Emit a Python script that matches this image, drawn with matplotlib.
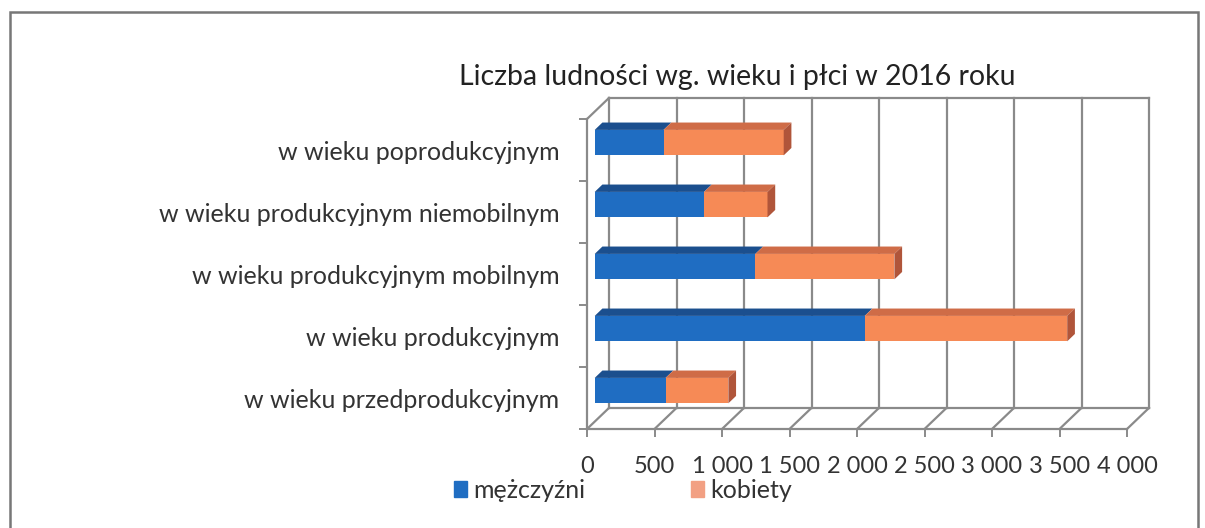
import matplotlib.pyplot as plt
from matplotlib.patches import Polygon, Rectangle, Patch

plt.rcParams['font.family'] = ['Lato', 'DejaVu Sans']

# dane (od dołu wykresu do góry)
kategorie = ["w wieku przedprodukcyjnym", "w wieku produkcyjnym",
             "w wieku produkcyjnym mobilnym", "w wieku produkcyjnym niemobilnym",
             "w wieku poprodukcyjnym"]
mezczyzni = [525, 2000, 1190, 810, 510]
kobiety = [465, 1500, 1030, 470, 890]
x_ticks = [0, 500, 1000, 1500, 2000, 2500, 3000, 3500, 4000]
x_labels = ["0", "500", "1 000", "1 500", "2 000", "2 500", "3 000", "3 500", "4 000"]

# pseudo 3D
DX = 163      # przesunięcie głębokości w jednostkach osi x
DY = 0.34     # przesunięcie głębokości w jednostkach kategorii
D0, D1 = 0.35, 0.70
H = 0.41
GRID = "#8a8a8a"
niebieski, niebieski_gora = "#1f6dc2", "#1b4f8e"
pomarancz, pomarancz_gora, pomarancz_bok = "#f68a56", "#cf6c47", "#b0553a"


def P(x, y, d):
    return (x + d * DX, y + d * DY)


fig = plt.figure(figsize=(12.05, 5.28), dpi=100)
ax = fig.add_axes([587 / 1205, 99 / 528, 540 / 1205, 310 / 528])
ax.set_xlim(0, 4000)
ax.set_ylim(-0.5, len(kategorie) - 0.5)
for s in ax.spines.values():
    s.set_visible(False)

y0, y1 = -0.5, len(kategorie) - 0.5
xmax = x_ticks[-1]

# tylna ściana
for xt in x_ticks:
    ax.plot(*zip(P(xt, y0, 1), P(xt, y1, 1)), color=GRID, lw=1.6, clip_on=False, zorder=1)
ax.plot(*zip(P(0, y1, 1), P(xmax, y1, 1)), color=GRID, lw=1.6, clip_on=False, zorder=1)
ax.plot(*zip(P(0, y0, 1), P(xmax, y0, 1)), color=GRID, lw=1.6, clip_on=False, zorder=1)
# podłoga
for xt in x_ticks:
    ax.plot(*zip(P(xt, y0, 0), P(xt, y0, 1)), color=GRID, lw=1.6, clip_on=False, zorder=1)
ax.plot([0, xmax], [y0, y0], color=GRID, lw=1.6, clip_on=False, zorder=1)
# lewa ściana
ax.plot([0, 0], [y0, y1], color=GRID, lw=1.6, clip_on=False, zorder=1)
ax.plot(*zip(P(0, y1, 0), P(0, y1, 1)), color=GRID, lw=1.6, clip_on=False, zorder=1)

# słupki
ys = list(range(len(kategorie)))
ox, oy = P(0, 0, D0)
b1 = ax.barh([y + oy for y in ys], mezczyzni, height=H, left=ox,
             color=niebieski, zorder=3, label="mężczyźni")
b2 = ax.barh([y + oy for y in ys], kobiety, height=H,
             left=[m + ox for m in mezczyzni], color=pomarancz, zorder=3, label="kobiety")
for y, m, k in zip(ys, mezczyzni, kobiety):
    top, bot = y + H / 2, y - H / 2
    ax.add_patch(Polygon([P(0, top, D0), P(m, top, D0), P(m, top, D1), P(0, top, D1)],
                         closed=True, fc=niebieski_gora, ec="none", zorder=3, clip_on=False))
    ax.add_patch(Polygon([P(m, top, D0), P(m + k, top, D0), P(m + k, top, D1), P(m, top, D1)],
                         closed=True, fc=pomarancz_gora, ec="none", zorder=3, clip_on=False))
    ax.add_patch(Polygon([P(m + k, bot, D0), P(m + k, top, D0), P(m + k, top, D1), P(m + k, bot, D1)],
                         closed=True, fc=pomarancz_bok, ec="none", zorder=3, clip_on=False))

# osie
ax.set_yticks(ys)
ax.set_yticklabels(kategorie, fontsize=18, color="#333333")
ax.set_yticks([y - 0.5 for y in ys] + [y1], minor=True)
ax.tick_params(axis="y", which="major", length=0, pad=20)
ax.tick_params(axis="y", which="minor", length=5.5, width=1.4, color=GRID)
ax.set_xticks(x_ticks)
ax.set_xticklabels(x_labels, fontsize=17, color="#333333")
ax.tick_params(axis="x", length=5.5, width=1.4, color=GRID, pad=14)

fig.text(737 / 1205, 1 - 77 / 528, "Liczba ludności wg. wieku i płci w 2016 roku",
         ha="center", va="center", fontsize=20.5, color="#222222")

leg = ax.legend(handles=[Patch(color=niebieski), Patch(color="#f2a083")],
                labels=["mężczyźni", "kobiety"], ncol=2, frameon=False, fontsize=18,
                loc="center left", bbox_to_anchor=(441 / 1205, 1 - 490 / 528),
                bbox_transform=fig.transFigure, handlelength=0.55, handleheight=0.6,
                handletextpad=0.25, columnspacing=4.2, borderpad=0)
for t in leg.get_texts():
    t.set_color("#333333")

# ramka
fig.patches.append(Rectangle((10 / 1205, -0.1), 1188 / 1205, 1.1 - 12 / 528,
                             transform=fig.transFigure, fill=False, ec="#777777", lw=1.8))

fig.savefig("out.png", dpi=100)
